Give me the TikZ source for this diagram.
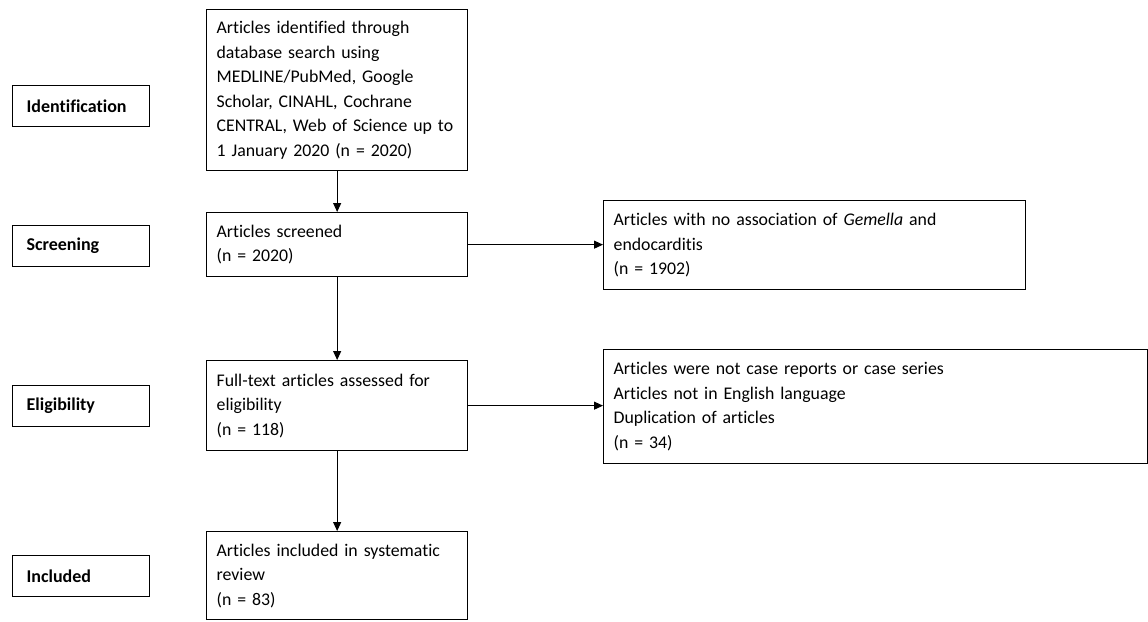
\documentclass[tikz,border=0pt]{standalone}
\usepackage{fontspec}
\setmainfont{Carlito}[Ligatures=CommonOff]
\usetikzlibrary{positioning,arrows.meta}
\newcommand\flowfont{\fontsize{17.8}{24.5}\selectfont\spaceskip=3.6pt plus 1pt\relax}

\begin{document}
\begin{tikzpicture}[x=1pt,y=-1pt,>={Triangle[length=9pt,width=8pt]},
  stagebox/.style={draw,line width=1.3pt,anchor=north west,minimum width=137pt,minimum height=41pt,inner xsep=14pt,text width=109pt,align=left,font=\fontsize{18}{24.5}\selectfont\bfseries},
  flowbox/.style={draw,line width=1.3pt,anchor=north west,inner xsep=10pt,align=left,font=\flowfont},
  link/.style={->,line width=1pt}]
  \useasboundingbox (0,0) rectangle (1148,621);
  % stage labels on the left
  \node[stagebox] (ident) at (12,85) {Identification};
  \node[stagebox] (screen) at (12,225) {Screening};
  \node[stagebox] (elig) at (12,385) {Eligibility};
  \node[stagebox] (incl) at (12,555) {Included};
  % main column
  \node[flowbox,text width=241pt,minimum height=161pt] (search) at (206,9) {Articles identified through\\database search using\\MEDLINE/PubMed, Google\\Scholar, CINAHL, Cochrane\\CENTRAL, Web of Science up to\\1 January 2020 (n = 2020)};
  \node[flowbox,text width=241pt,minimum height=64pt] (screened) at (206,212) {Articles screened\\(n = 2020)};
  \node[flowbox,text width=241pt,minimum height=90pt] (fulltext) at (206,360) {Full-text articles assessed for\\eligibility\\(n = 118)};
  \node[flowbox,text width=241pt,minimum height=88pt] (included) at (206,531) {Articles included in systematic\\review\\(n = 83)};
  % exclusions
  \node[flowbox,text width=402pt,minimum height=89pt] (noassoc) at (603,200) {Articles with no association of \textit{Gemella} and\\endocarditis\\(n = 1902)};
  \node[flowbox,text width=524pt,minimum height=114pt] (excluded) at (603,349) {Articles were not case reports or case series\\Articles not in English language\\Duplication of articles\\(n = 34)};
  \draw[link] (search) -- (screened);
  \draw[link] (screened) -- (fulltext);
  \draw[link] (fulltext) -- (included);
  \draw[link] (screened.east) -- (screened.east -| noassoc.west);
  \draw[link] (fulltext.east) -- (fulltext.east -| excluded.west);
\end{tikzpicture}
\end{document}
